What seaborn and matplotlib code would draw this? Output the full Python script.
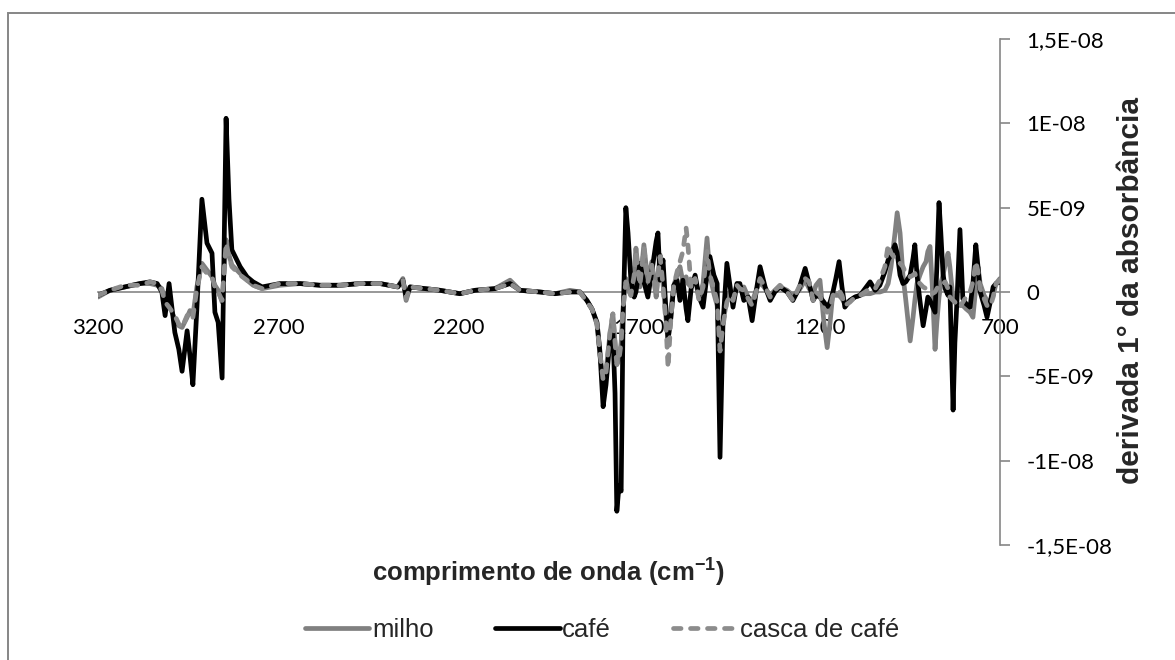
import numpy as np
import pandas as pd
import matplotlib
matplotlib.use("Agg")
import matplotlib.pyplot as plt
import seaborn as sns
from matplotlib.patches import Rectangle
from matplotlib.lines import Line2D

# Número de onda (cm-1)
numero_onda = [
    3200, 3167, 3125, 3084, 3056, 3036, 3023, 3014, 3003, 2987,
    2976, 2967, 2953, 2945, 2937, 2926, 2912, 2898, 2884, 2876,
    2867, 2856, 2845, 2837, 2829, 2806, 2787, 2770, 2745,
    2696, 2640, 2585, 2529, 2474, 2418, 2369, 2355, 2346, 2335,
    2294, 2252, 2197, 2155, 2100, 2058, 2030, 1975, 1933, 1892, 1864,
    1845, 1831, 1817, 1809, 1800, 1792, 1781, 1773, 1767, 1762,
    1756, 1750, 1745, 1737, 1731, 1723, 1714, 1709, 1698, 1687,
    1676, 1665, 1653, 1648, 1642, 1634, 1626, 1620, 1612, 1604,
    1595, 1587, 1579, 1570, 1565, 1556, 1545, 1534, 1523, 1512,
    1504, 1493, 1484, 1476, 1468, 1457, 1448, 1440, 1429, 1421,
    1410, 1398, 1387, 1376, 1365, 1351, 1337, 1324, 1310,
    1290, 1274, 1257, 1240, 1229, 1218, 1210, 1199, 1188, 1179,
    1171, 1163, 1155, 1146, 1138, 1130, 1116, 1102, 1088, 1074,
    1060, 1046, 1033, 1019, 1010, 1002, 991, 985, 977, 969,
    961, 949, 941, 936, 930, 922, 913, 905, 900, 894,
    888, 880, 875, 869, 864, 858, 852, 844, 839, 830,
    825, 819, 811, 803, 794, 783, 775, 767, 761, 755,
    744, 736, 728, 719, 711, 700,
]

# Primeira derivada da absorbância (x 1E-09)
milho = [
    -0.3, 0.1, 0.3, 0.5, 0.5, 0.4, 0.2, -0.5, -0.8, -1.6,
    -2.0, -2.1, -1.5, -1.1, -1.4, 0.3, 1.7, 1.3, 0.9, 0.4,
    0.1, -0.6, 3.1, 2.2, 1.6, 1.1, 0.7, 0.4, 0.2,
    0.4, 0.5, 0.4, 0.4, 0.5, 0.5, 0.3, 0.8, -0.5, 0.3,
    0.2, 0.1, -0.1, 0.1, 0.2, 0.7, 0.1, 0.0, -0.1, 0.1, 0.0,
    -0.5, -1.0, -1.9, -3.7, -5.0, -4.7, -2.5, -1.3, -3.0, -4.3,
    -4.0, -3.0, -1.0, 0.8, 0.2, -0.2, 1.2, 2.6, 0.3, 2.8,
    0.6, 1.8, -0.3, 1.0, 2.2, 0.5, -1.5, -3.0, -1.0, 0.4,
    1.0, 1.5, 0.6, 0.9, 0.5, 0.3, 0.8, -0.4, 0.5, 3.2,
    1.0, -0.1, -0.8, -3.6, -1.8, -0.5, 0.0, -0.4, 0.5, 0.2,
    0.3, -0.3, -0.6, 0.1, 0.6, 0.2, -0.2, 0.1, 0.3,
    0.1, -0.2, 0.1, 0.7, 0.2, -0.1, 0.4, 0.7, -1.8, -3.3,
    -1.8, 0.0, -0.2, -0.2, -0.4, -0.7, -0.5, -0.3, -0.2, -0.1,
    -0.1, 0.0, 0.0, 0.1, 0.5, 1.5, 3.5, 4.7, 3.5, 1.0,
    -0.5, -2.9, -1.5, -0.5, 0.5, 1.0, 1.5, 1.8, 2.4, 2.7,
    0.5, -3.4, -1.8, -0.3, 0.5, 1.0, 1.6, 2.3, 1.5, -0.4,
    -0.6, -0.7, -0.8, -0.8, -1.0, -1.2, -1.5, 0.3, 1.5, 0.5,
    -0.2, -0.5, -0.6, -0.2, 0.5, 0.8,
]

cafe = [
    -0.2, 0.1, 0.3, 0.5, 0.6, 0.5, 0.0, -1.4, 0.5, -2.4,
    -3.4, -4.7, -2.3, -3.8, -5.5, -1.0, 5.5, 2.9, 2.3, -1.2,
    -1.8, -5.1, 10.3, 5.5, 2.5, 1.5, 0.9, 0.6, 0.3,
    0.5, 0.5, 0.4, 0.4, 0.5, 0.5, 0.3, 0.7, -0.3, 0.3,
    0.2, 0.1, -0.1, 0.1, 0.2, 0.5, 0.1, 0.0, -0.1, 0.0, 0.0,
    -0.5, -1.0, -1.8, -3.5, -6.8, -5.5, -2.8, -2.4, -6.0, -13.0,
    -11.5, -11.8, -2.0, 5.0, 3.5, 0.7, -0.3, 0.0, 1.7, 0.6,
    -0.3, 1.2, 3.0, 3.5, 0.7, 1.9, -1.0, -2.8, -1.5, 0.4,
    0.7, -0.5, 0.7, -1.0, -1.7, 0.2, 1.0, -0.3, -0.9, 1.0,
    2.1, 1.0, 0.5, -9.8, -2.0, 1.7, 0.3, -0.9, 0.5, 0.5,
    -0.5, -0.3, -1.7, 0.0, 1.5, 0.3, -0.5, 0.0, 0.3,
    0.0, -0.5, 0.2, 1.4, 0.5, -0.5, -0.2, -0.3, -0.6, -0.9,
    -0.6, 0.0, 0.8, 1.8, 0.3, -0.9, -0.5, -0.3, -0.2, 0.2,
    0.6, 0.1, 0.4, 1.2, 1.9, 2.2, 2.8, 2.3, 1.0, 0.5,
    0.6, 1.0, 2.0, 2.8, 1.0, -0.5, -2.0, -1.0, -0.3, -0.5,
    -0.8, -1.2, 1.5, 5.3, 3.5, 1.1, 0.2, -0.2, 0.3, -7.0,
    -3.0, -0.4, 3.7, -0.4, -0.7, -0.9, 0.5, 2.8, 1.5, 0.0,
    -0.8, -1.5, -0.7, 0.3, 0.5, 0.6,
]

casca_cafe = [
    -0.2, 0.1, 0.4, 0.4, 0.6, 0.5, 0.1, -0.6, -0.9, -1.4,
    -1.9, -2.1, -1.4, -1.2, -1.5, 0.2, 1.5, 1.1, 0.9, 0.3,
    0.0, -0.5, 2.9, 2.1, 1.5, 1.0, 0.7, 0.4, 0.2,
    0.5, 0.5, 0.4, 0.4, 0.5, 0.5, 0.3, 0.7, -0.4, 0.3,
    0.2, 0.1, -0.1, 0.1, 0.2, 0.5, 0.1, 0.0, -0.1, 0.0, 0.0,
    -0.6, -1.0, -1.9, -3.6, -5.2, -4.8, -2.4, -1.3, -3.0, -4.3,
    -4.0, -3.0, -1.0, 0.6, 0.2, -0.2, 1.0, 2.4, 0.4, 2.6,
    0.6, 1.6, -0.2, 1.0, 2.1, 0.4, -1.8, -4.5, -1.5, 0.4,
    1.2, 1.8, 2.4, 3.8, 2.8, 0.2, 0.8, -0.5, 0.3, 2.4,
    1.0, 0.2, -0.6, -3.5, -2.0, -0.6, -0.2, -0.5, 0.4, 0.2,
    0.1, -0.4, -0.8, 0.0, 0.8, 0.3, -0.3, 0.1, 0.4,
    0.0, -0.5, 0.3, 0.8, 0.6, -0.5, 0.0, -0.2, -1.0, -1.2,
    -1.0, -0.2, 0.0, 0.1, -0.2, -0.8, -0.6, -0.3, -0.2, 0.0,
    0.2, 0.2, 0.7, 1.5, 2.8, 2.3, 2.0, 1.9, 1.7, 1.5,
    1.1, 0.9, 1.0, 1.1, 0.7, 0.5, 0.3, 0.2, 0.1, 0.0,
    -0.1, 0.0, 0.2, 0.4, 0.5, 0.5, 0.6, 0.2, -0.3, -0.5,
    -0.6, -0.8, -0.9, -0.6, -0.3, 0.0, 0.6, 1.8, 1.2, 0.2,
    -0.4, -0.8, -0.9, -0.3, 0.5, 0.7,
]

escala = 1e-9

series = ["milho", "café", "casca de café"]
cores = ["#808080", "#000000", "#8c8c8c"]

x_ticks = [3200, 2700, 2200, 1700, 1200, 700]
y_ticks = [1.5e-8, 1e-8, 5e-9, 0, -5e-9, -1e-8, -1.5e-8]
y_tick_labels = ["1,5E-08", "1E-08", "5E-09", "0", "-5E-09", "-1E-08", "-1,5E-08"]

df = pd.DataFrame({
    "onda": numero_onda,
    "milho": np.array(milho) * escala,
    "café": np.array(cafe) * escala,
    "casca de café": np.array(casca_cafe) * escala,
})

sns.set_style("white")
plt.rcParams["font.family"] = ["Liberation Sans", "DejaVu Sans"]
plt.rcParams["mathtext.fontset"] = "custom"
plt.rcParams["mathtext.rm"] = "Liberation Sans"
plt.rcParams["mathtext.bf"] = "Liberation Sans:bold"

W, H = 1175, 660
fig = plt.figure(figsize=(W / 100, H / 100), dpi=100)
fig.patch.set_facecolor("white")
ax = fig.add_axes([98 / W, 1 - 545 / H, 902 / W, 506 / H])
ax.patch.set_alpha(0)

lw = 3.4
tracejado = (0, (1.6, 2.0))
sns.lineplot(data=df, x="onda", y="milho", ax=ax, color=cores[0], lw=lw,
             estimator=None, sort=False, zorder=3, solid_joinstyle="round")
sns.lineplot(data=df, x="onda", y="café", ax=ax, color=cores[1], lw=lw,
             estimator=None, sort=False, zorder=4, solid_joinstyle="round")
sns.lineplot(data=df, x="onda", y="casca de café", ax=ax, color=cores[2], lw=lw,
             estimator=None, sort=False, zorder=5, dashes=False,
             linestyle=tracejado, dash_capstyle="round")

ax.set_xlim(3200, 700)
ax.set_ylim(-1.5e-8, 1.5e-8)
ax.set_xlabel("")
ax.set_ylabel("")

eixo = "#868686"
for s in ["left", "top"]:
    ax.spines[s].set_visible(False)
ax.spines["right"].set_color(eixo)
ax.spines["right"].set_linewidth(1.2)
ax.spines["bottom"].set_position(("data", 0))
ax.spines["bottom"].set_color(eixo)
ax.spines["bottom"].set_linewidth(1.2)
ax.spines["bottom"].set_zorder(2)

ax.yaxis.tick_right()
ax.set_xticks(x_ticks)
ax.set_xticklabels([str(v) for v in x_ticks])
ax.set_yticks(y_ticks)
ax.set_yticklabels(y_tick_labels)
ax.tick_params(axis="both", direction="out", length=7, width=1.2, color=eixo,
               labelsize=16, labelcolor="black", pad=12)
for lab in ax.get_xticklabels() + ax.get_yticklabels():
    lab.set_fontfamily(["Lato", "DejaVu Sans"])

fig.text(548 / W, 1 - 572 / H, r"comprimento de onda (cm$^{\mathbf{-1}}$)",
         ha="center", va="center", fontsize=18.5, fontweight="bold")
fig.text(1131 / W, 1 - 290 / H, "derivada 1° da absorbância", rotation=90,
         ha="center", va="center", fontsize=21.5, fontweight="bold")

handles = [
    Line2D([], [], color=cores[0], lw=lw),
    Line2D([], [], color=cores[1], lw=lw),
    Line2D([], [], color=cores[2], lw=lw, linestyle=tracejado,
           dash_capstyle="round"),
]
fig.legend(handles, series, loc="center", bbox_to_anchor=(602 / W, 1 - 630 / H),
           ncol=3, frameon=False, fontsize=18.5, handlelength=2.5,
           handletextpad=0.1, columnspacing=2.4)

fig.patches.append(Rectangle((7.5 / W, -0.05), 1.2, (1 - 12.5 / H) + 0.05,
                             transform=fig.transFigure, fill=False,
                             ec=eixo, lw=1.4))

fig.savefig("out.png", dpi=100, facecolor="white")
